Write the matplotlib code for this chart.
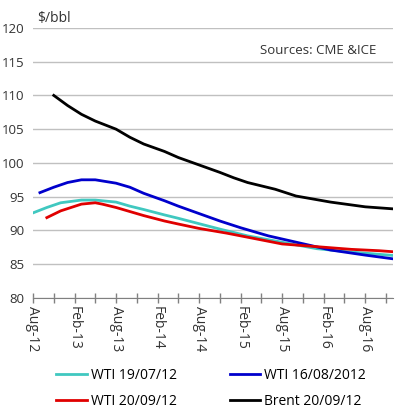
import matplotlib
matplotlib.use("Agg")
from matplotlib import pyplot as plt

plt.rcParams['font.family'] = ['Open Sans', 'DejaVu Sans']

# month index: 0 = Aug-12
x_labels = ["Aug-12", "Feb-13", "Aug-13", "Feb-14", "Aug-14",
            "Feb-15", "Aug-15", "Feb-16", "Aug-16"]

wti_0719_m = [0, 2, 4, 7, 9, 12, 14, 16, 19, 21, 24, 27, 31, 36, 41, 46, 52]
wti_0719_v = [92.6, 93.4, 94.1, 94.5, 94.5, 94.2, 93.6, 93.1, 92.3, 91.8,
              91.0, 90.2, 89.2, 88.25, 87.3, 86.8, 86.3]

wti_0816_m = [1, 3, 5, 7, 9, 12, 14, 16, 19, 21, 24, 27, 30, 34, 37, 40, 43, 48, 52]
wti_0816_v = [95.6, 96.4, 97.1, 97.5, 97.5, 97.0, 96.4, 95.5, 94.4, 93.6,
              92.5, 91.4, 90.4, 89.2, 88.5, 87.8, 87.1, 86.35, 85.8]

wti_0920_m = [2, 4, 7, 9, 10, 12, 14, 16, 19, 21, 24, 28, 31, 36, 41, 46, 50, 52]
wti_0920_v = [91.9, 92.9, 93.9, 94.1, 93.9, 93.4, 92.8, 92.2, 91.4, 90.95,
              90.3, 89.6, 89.0, 88.0, 87.6, 87.2, 87.0, 86.85]

brent_m = [3, 5, 7, 9, 12, 14, 16, 19, 21, 24, 27, 29, 31, 35, 38, 43, 48, 52]
brent_v = [110.0, 108.5, 107.2, 106.2, 105.0, 103.8, 102.8, 101.7, 100.8, 99.7,
           98.6, 97.8, 97.1, 96.1, 95.1, 94.2, 93.5, 93.2]

fig = plt.figure(figsize=(3.99, 4.13), dpi=100)
ax = fig.add_axes([0.0827, 0.2785, 0.902, 0.654])

l1, = ax.plot(wti_0719_m, wti_0719_v, color='#40c8c0', lw=2, label='WTI 19/07/12')
l2, = ax.plot(wti_0816_m, wti_0816_v, color='#0000cc', lw=2, label='WTI 16/08/2012')
l3, = ax.plot(wti_0920_m, wti_0920_v, color='#e00000', lw=2, label='WTI 20/09/12')
l4, = ax.plot(brent_m, brent_v, color='black', lw=2, label='Brent 20/09/12')

ax.set_xlim(0, 52)
ax.set_ylim(80, 120)
ax.set_yticks(range(80, 121, 5))
ax.grid(axis='y', color='#c0c0c0', lw=1)
ax.set_axisbelow(True)

ax.set_xticks(range(0, 49, 6))
ax.set_xticklabels(x_labels, rotation=-90, fontsize=10, color='#333333')
ax.set_xticks(range(0, 52, 3), minor=True)
ax.tick_params(axis='x', which='both', direction='inout', length=7,
               color='#808080', width=1, pad=2)
ax.tick_params(axis='y', length=0, pad=6, labelsize=9.5, labelcolor='#333333')

for s in ['top', 'right', 'left']:
    ax.spines[s].set_visible(False)
ax.spines['bottom'].set_color('#808080')

fig.text(0.093, 0.955, r"\$/bbl", fontsize=10, color='#333333', va='center')
ax.text(0.63, 0.915, "Sources: CME &ICE", transform=ax.transAxes,
        fontsize=9.5, color='#333333', va='center')

fig.legend([l1, l3, l2, l4], [l1.get_label(), l3.get_label(), l2.get_label(), l4.get_label()],
           ncol=2, frameon=False, loc='upper left', bbox_to_anchor=(0.127, 0.122),
           borderaxespad=0, fontsize=10, handlelength=2.2, handletextpad=0.3,
           columnspacing=3.8, labelspacing=0.75)

fig.savefig("out.png", dpi=100)
